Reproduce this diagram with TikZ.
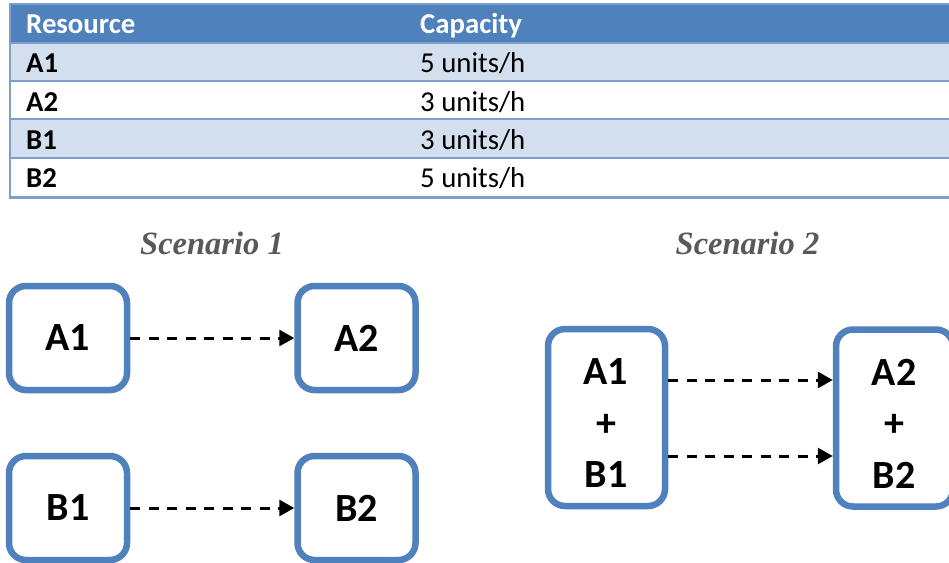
\documentclass[tikz,border=0pt]{standalone}
\usepackage{fontspec}
\setmainfont{Carlito}
\newfontfamily\titlefont{Liberation Serif}
\usetikzlibrary{arrows.meta}

\definecolor{hdrblue}{HTML}{4F81BD}
\definecolor{rowblue}{HTML}{D3DFEE}
\definecolor{ruleblue}{HTML}{7BA0CD}
\definecolor{titlegrey}{HTML}{595959}

\begin{document}
\begin{tikzpicture}[x=1pt,y=-1pt,
  hdrtext/.style={anchor=base west,inner sep=0pt,text=white,font=\fontsize{28.8}{34}\selectfont\bfseries},
  celltext/.style={anchor=base west,inner sep=0pt,font=\fontsize{28.8}{34}\selectfont},
  keytext/.style={celltext,font=\fontsize{28.8}{34}\selectfont\bfseries},
  tabrule/.style={draw=ruleblue,line width=2.5pt},
  scentitle/.style={anchor=base,inner sep=0pt,text=titlegrey,font=\titlefont\fontsize{32.5}{38}\selectfont\bfseries\itshape},
  resbox/.style={draw=hdrblue,line width=6.5pt,rounded corners=17pt,fill=white,minimum width=118pt,inner sep=0pt},
  boxtext/.style={inner sep=0pt,align=center,font=\fontsize{40}{51.5}\selectfont\bfseries},
  flow/.style={-{Triangle[length=15pt,width=16pt]},line width=3pt,dash pattern=on 10pt off 8.5pt}
]
\useasboundingbox (0,0) rectangle (949,562);

% capacity table
\fill[hdrblue] (10,4) rectangle (952,43);
\fill[rowblue] (10,43) rectangle (952,81);
\fill[rowblue] (10,119) rectangle (952,158);
\draw[tabrule] (10,43) -- (952,43);
\draw[tabrule] (10,81) -- (952,81);
\draw[tabrule] (10,119) -- (952,119);
\draw[tabrule] (10,158) -- (952,158);
\draw[tabrule] (10,4) rectangle (952,197.5);

\node[hdrtext] (hres) at (26,33) {Resource};
\node[hdrtext] (hcap) at (420,33) {Capacity};
\node[keytext] (ra1) at (26,72.7) {A1};
\node[celltext] (ca1) at (420,72.7) {5 units/h};
\node[keytext] (ra2) at (26,111) {A2};
\node[celltext] (ca2) at (420,111) {3 units/h};
\node[keytext] (rb1) at (26,149.5) {B1};
\node[celltext] (cb1) at (420,149.5) {3 units/h};
\node[keytext] (rb2) at (26,187.7) {B2};
\node[celltext] (cb2) at (420,187.7) {5 units/h};

% scenario titles
\node[scentitle] (t1) at (212,254) {Scenario 1};
\node[scentitle] (t2) at (747.5,254) {Scenario 2};

% scenario 1: separate resources
\node[resbox,minimum height=104pt,font=\fontsize{40}{48}\selectfont\bfseries] (a1) at (68,338) {A1};
\node[resbox,minimum height=104pt,font=\fontsize{40}{48}\selectfont\bfseries] (a2) at (356.5,338) {A2};
\node[resbox,minimum height=104pt,font=\fontsize{40}{48}\selectfont\bfseries] (b1) at (68,508) {B1};
\node[resbox,minimum height=104pt,font=\fontsize{40}{48}\selectfont\bfseries] (b2) at (356.5,508) {B2};
\draw[flow] (a1.east) -- (a2.west);
\draw[flow] (b1.east) -- (b2.west);

% scenario 2: combined resources
\node[resbox,minimum width=117pt,minimum height=177pt] (ab1) at (606.5,417.5) {};
\node[resbox,minimum width=117pt,minimum height=177pt] (ab2) at (894.5,418) {};
\node[boxtext] (ab1txt) at (606,423.5) {A1\\+\\B1};
\node[boxtext] (ab2txt) at (894,423.5) {A2\\+\\B2};
\draw[flow] (ab1.east |- 0,380) coordinate (u1) -- (ab2.west |- u1);
\draw[flow] (ab1.east |- 0,456) coordinate (l1) -- (ab2.west |- l1);
\end{tikzpicture}
\end{document}
